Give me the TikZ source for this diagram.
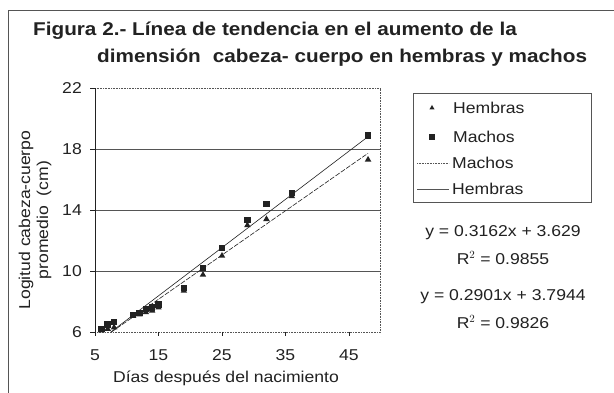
\documentclass[tikz,border=0pt]{standalone}
\usepackage{fontspec}
\setmainfont{Liberation Sans}[FakeStretch=1.12]
\usetikzlibrary{shapes.geometric}
\definecolor{ink}{HTML}{222222}
\definecolor{gridc}{HTML}{555555}
\tikzset{
  sq/.style={draw=none,fill=ink,rectangle,minimum size=6.5pt,inner sep=0pt},
  tri/.style={draw=none,fill=ink,regular polygon,regular polygon sides=3,minimum size=7.5pt,inner sep=0pt},
  ticklab/.style={font=\fontsize{15.7}{15.7}\selectfont,text=ink,inner sep=0pt},
  legtxt/.style={font=\fontsize{15.7}{15.7}\selectfont,text=ink,anchor=west,inner sep=0pt},
  eqtxt/.style={font=\fontsize{15.7}{15.7}\selectfont,text=ink,inner sep=0pt},
  titletxt/.style={font=\bfseries\fontsize{18.5}{18.5}\selectfont,text=ink,anchor=base west,inner sep=0pt},
  gridln/.style={draw=gridc,line width=0.8pt},
  dotbord/.style={draw=gridc,line width=0.6pt,dash pattern=on 0.8pt off 0.8pt},
  fitm/.style={draw=ink,line width=0.6pt},
  fith/.style={draw=ink,line width=0.6pt,dash pattern=on 5pt off 1.5pt},
}
\begin{document}
\begin{tikzpicture}[x=1pt,y=1pt]
\useasboundingbox[fill=white] (0,0) rectangle (614,393);
% outer frame (top and left)
\coordinate (fl) at (8,0);
\coordinate (ftl) at (8,383);
\coordinate (ftr) at (614,383);
\draw[draw=gridc,line width=0.7pt] (fl) -- (ftl) -- (ftr);
% title
\node[titletxt] (t1) at (33,357) {Figura 2.- Línea de tendencia en el aumento de la};
\node[titletxt] (t2) at (97,330) {dimensión\hspace{12pt}cabeza- cuerpo en hembras y machos};
% plot
\begin{scope}[shift={(63.25,-30.5)},x=6.35pt,y=15.25pt]
  \coordinate (ll) at (5,6);
  \coordinate (lr) at (50,6);
  \coordinate (ul) at (5,22);
  \coordinate (ur) at (50,22);
  \foreach \v in {10,14,18}{
    \coordinate (gl\v) at (5,\v);
    \coordinate (gr\v) at (50,\v);
    \draw[gridln] (gl\v) -- (gr\v);
  }
  \draw[dotbord] (ul) -- (ur) -- (lr) -- (ll);
  \draw[draw=ink,line width=0.7pt] (ll) -- (ul);
  % y ticks and labels
  \foreach \v in {6,10,14,18,22}{
    \coordinate (yt\v) at (5,\v);
    \draw[draw=ink,line width=0.6pt] (yt\v) -- ++(-5pt,0);
    \node[ticklab,anchor=east] (yl\v) at ([xshift=-13pt]yt\v) {\v};
  }
  % x ticks and labels
  \foreach \v in {5,15,25,35,45}{
    \coordinate (xt\v) at (\v,6);
    \draw[draw=ink,line width=0.6pt] (xt\v) -- ++(0,-4pt);
    \node[ticklab] (xl\v) at ([yshift=-23pt]xt\v) {\v};
  }
  % fit lines
  \coordinate (m0) at (7.5,6.0);
  \coordinate (m1) at (48,18.81);
  \coordinate (h0) at (7.6,6.0);
  \coordinate (h1) at (48,17.72);
  \draw[fitm] (m0) -- (m1);
  \draw[fith] (h0) -- (h1);
  % data: hembras (triangles)
  \foreach \px/\py [count=\i] in {6/6.1,7/6.2,8/6.3,11/7.05,12/7.15,13/7.3,14/7.4,15/7.6,19/8.7,22/9.75,25/11.0,29/13.0,32/13.4,36/14.9,48/17.3}{
    \node[tri] (h\i) at (\px,\py) {};
  }
  % data: machos (squares)
  \foreach \px/\py [count=\i] in {6/6.2,7/6.5,8/6.65,11/7.1,12/7.25,13/7.5,14/7.6,15/7.8,19/8.9,22/10.2,25/11.5,29/13.35,32/14.4,36/15.1,48/18.9}{
    \node[sq] (m\i) at (\px,\py) {};
  }
\end{scope}
% axis titles
\node[ticklab] (xtitle) at (226,15) {Días después del nacimiento};
\node[ticklab,rotate=90] (ytitle1) at (26,173) {Logitud cabeza-cuerpo};
\node[ticklab,rotate=90] (ytitle2) at (44,173) {promedio\ \ (cm)};
% legend
\node[draw=gridc,line width=0.6pt,minimum width=178pt,minimum height=109pt,anchor=north west,inner sep=0pt] (leg) at (413,300) {};
\node[tri,minimum size=6pt] (lt) at (432,285) {};
\node[legtxt] (lt1) at (453,285) {Hembras};
\node[sq,minimum size=5.5pt] (ls) at (432,256) {};
\node[legtxt] (ls1) at (453,256) {Machos};
\coordinate (lm0) at (417,230);
\coordinate (lm1) at (449,230);
\draw[draw=gridc,line width=0.5pt,dash pattern=on 1pt off 0.6pt] (lm0) -- (lm1);
\node[legtxt] (lm2) at (452,230) {Machos};
\coordinate (lh0) at (417,204);
\coordinate (lh1) at (449,204);
\draw[draw=gridc,line width=0.6pt] (lh0) -- (lh1);
\node[legtxt] (lh2) at (452,204) {Hembras};
% equations
\node[eqtxt] (e1) at (503,160) {y = 0.3162x + 3.629};
\node[eqtxt] (e2) at (503,135) {R$^2$ = 0.9855};
\node[eqtxt] (e3) at (503,96) {y = 0.2901x + 3.7944};
\node[eqtxt] (e4) at (503,71) {R$^2$ = 0.9826};
\end{tikzpicture}
\end{document}
